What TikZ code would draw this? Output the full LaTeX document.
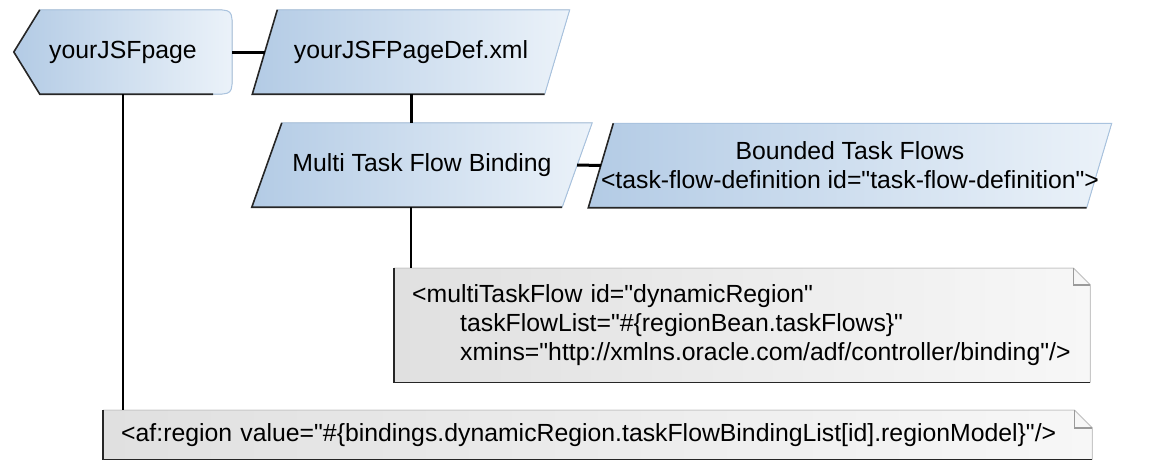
\documentclass[tikz,border=0pt]{standalone}
\usepackage{fontspec}
\setmainfont{Liberation Sans}[Ligatures=TeXOff]
\usepackage{xcolor}
\usetikzlibrary{positioning,calc,backgrounds}
\definecolor{blueL}{HTML}{B3CBE5}
\definecolor{blueR}{HTML}{EBF2F9}
\definecolor{blueEdge}{HTML}{A9C3DF}
\definecolor{greyL}{HTML}{E0E0E0}
\definecolor{greyR}{HTML}{F7F7F7}
\definecolor{greyEdge}{HTML}{C8C8C8}
\definecolor{greyFold}{HTML}{9A9A9A}

% slanted box behind node #1, #2 = half of the slant
\newcommand\slantshape[2]{%
  \fill[left color=blueL, right color=blueR]
    ($(#1.north west)+(#2,0)$) -- ($(#1.north east)+(#2,0)$)
    -- ($(#1.south east)-(#2,0)$) -- ($(#1.south west)-(#2,0)$) -- cycle;
  \draw[lightedge] ($(#1.south east)-(#2,0)$) -- ($(#1.north east)+(#2,0)$)
    -- ($(#1.north west)+(#2,0)$);
  \draw[darkedge] ($(#1.north west)+(#2,0)$) -- ($(#1.south west)-(#2,0)$)
    -- ($(#1.south east)-(#2,0)$);
}
% note with folded corner behind node #1, #2 = fold size
\newcommand\noteshape[2]{%
  \fill[left color=greyL, right color=greyR]
    (#1.north west) -- ($(#1.north east)-(#2,0)$) -- ($(#1.north east)+(0,#2)$)
    -- (#1.south east) -- (#1.south west) -- cycle;
  \draw[greyedge] (#1.south east) -- ($(#1.north east)+(0,#2)$)
    -- ($(#1.north east)-(#2,0)$) -- (#1.north west);
  \draw[foldedge] ($(#1.north east)-(#2,0)$) |- ($(#1.north east)+(0,#2)$);
  \draw[darkedge] (#1.north west) -- (#1.south west) -- (#1.south east);
}

\begin{document}
\begin{tikzpicture}[
    x=1pt, y=-1pt,
    txt/.style={font=\fontsize{24.8pt}{29pt}\selectfont},
    flowbox/.style={txt, minimum height=84pt, inner sep=0pt, align=center},
    notebox/.style={txt, inner xsep=18pt, inner ysep=0pt, align=left,
                    anchor=north west},
    lightedge/.style={blueEdge, line width=1pt},
    darkedge/.style={black!85, line width=1.6pt},
    greyedge/.style={greyEdge, line width=1pt},
    foldedge/.style={greyFold, line width=1.2pt},
    link/.style={black, line width=3pt},
    thinlink/.style={black, line width=2pt},
  ]
    \useasboundingbox (0,0) rectangle (1159,461);

    % flow boxes
    \node[flowbox, minimum width=218pt] (page) at (123,52) {yourJSFpage};
    \node[flowbox, minimum width=292pt] (def) at (411,52) {yourJSFPageDef.xml};
    \node[flowbox, minimum width=310pt] (multi) at (422,165)
      {Multi Task Flow Binding};
    \node[flowbox, minimum width=486pt] (bounded) at (850,165.5)
      {Bounded Task Flows\\<task-flow-definition id="task-flow-definition">};

    % notes
    \node[notebox, text width=660pt, minimum height=114pt] (mtf) at (394,268)
      {<multiTaskFlow id="dynamicRegion"\\
       \hspace*{48pt}taskFlowList="\#\{regionBean.taskFlows\}"\\
       \hspace*{48pt}xmins="http://xmlns.oracle.com/adf/controller/binding"/>};
    \node[notebox, text width=953pt, minimum height=49pt] (region) at (103,410)
      {<af:region value="\#\{bindings.dynamicRegion.taskFlowBindingList[id].regionModel\}"/>};

    \begin{scope}[on background layer]
      % page shape: pointed left end, rounded right end
      \fill[left color=blueL, right color=blueR]
        ($(page.north west)+(26,0)$) -- ($(page.north east)-(20,0)$)
        .. controls (page.north east) .. ($(page.north east)+(0,20)$)
        -- ($(page.south east)-(0,20)$)
        .. controls (page.south east) .. ($(page.south east)-(20,0)$)
        -- ($(page.south west)+(26,0)$) -- (page.west) -- cycle;
      \draw[lightedge] ($(page.south east)-(20,0)$)
        .. controls (page.south east) .. ($(page.south east)-(0,20)$)
        -- ($(page.north east)+(0,20)$)
        .. controls (page.north east) .. ($(page.north east)-(20,0)$)
        -- ($(page.north west)+(26,0)$);
      \draw[darkedge] ($(page.north west)+(26,0)$) -- (page.west)
        -- ($(page.south west)+(26,0)$) -- ($(page.south east)-(19,0)$);

      \slantshape{def}{12.5}
      \slantshape{multi}{15}
      \slantshape{bounded}{12.5}
      \noteshape{mtf}{17}
      \noteshape{region}{18}
    \end{scope}

    % connectors
    \draw[link] (page.east) -- (def.west);
    \draw[link] (def.south) -- (def.south |- multi.north);
    \draw[link] (multi.east) -- (bounded.west);
    \draw[thinlink] (def.south |- multi.south) -- (def.south |- mtf.north);
    \draw[thinlink] (page.south) -- (page.south |- region.north);
\end{tikzpicture}
\end{document}
